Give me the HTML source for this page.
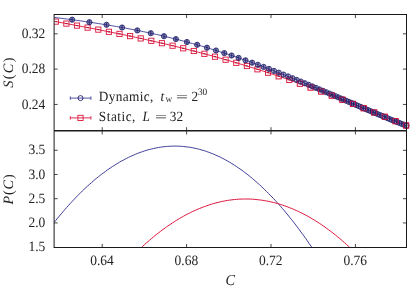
<!DOCTYPE html>
<html><head><meta charset="utf-8"><style>
html,body{margin:0;padding:0;background:#fff;}
body{width:415px;height:291px;position:relative;overflow:hidden;font-family:"Liberation Serif",serif;color:#222;}
#t{position:absolute;left:0;top:0;width:415px;height:291px;will-change:transform;text-rendering:geometricPrecision;}
</style></head><body>
<svg width="415" height="291" viewBox="0 0 415 291" style="position:absolute;left:0;top:0">
<defs><clipPath id="c1"><rect x="54.1" y="14.5" width="356.4" height="116.3"/></clipPath><clipPath id="c2"><rect x="54.1" y="130.8" width="352.4" height="116.7"/></clipPath></defs>
<g clip-path="url(#c1)">
<polyline fill="none" stroke="#dc143c" stroke-width="0.9" points="55.8,21.6 66.4,23.6 77.0,25.6 87.6,27.6 98.3,29.6 108.9,31.8 119.5,33.9 130.1,36.1 140.7,38.4 151.3,40.8 161.9,43.2 172.6,45.7 183.2,48.3 193.8,51.0 204.4,53.8 215.0,56.7 225.6,59.7 236.3,62.8 246.9,66.0 257.5,69.3 268.1,72.7 278.7,76.3 289.3,79.9 299.9,83.7 310.6,87.6 321.2,91.5 331.8,95.6 342.4,99.7 353.0,103.9 363.6,108.2 374.2,112.5 384.9,116.8 395.5,121.1 406.1,125.5"/>
<rect x="53.2" y="19.0" width="5.2" height="5.2" fill="none" stroke="#dc143c" stroke-width="0.9"/>
<line x1="54.6" x2="57.0" y1="21.6" y2="21.6" stroke="#b01030" stroke-width="1"/>
<rect x="63.8" y="21.0" width="5.2" height="5.2" fill="none" stroke="#dc143c" stroke-width="0.9"/>
<line x1="65.2" x2="67.6" y1="23.6" y2="23.6" stroke="#b01030" stroke-width="1"/>
<rect x="74.4" y="23.0" width="5.2" height="5.2" fill="none" stroke="#dc143c" stroke-width="0.9"/>
<line x1="75.8" x2="78.2" y1="25.6" y2="25.6" stroke="#b01030" stroke-width="1"/>
<rect x="85.0" y="25.0" width="5.2" height="5.2" fill="none" stroke="#dc143c" stroke-width="0.9"/>
<line x1="86.4" x2="88.8" y1="27.6" y2="27.6" stroke="#b01030" stroke-width="1"/>
<rect x="95.7" y="27.0" width="5.2" height="5.2" fill="none" stroke="#dc143c" stroke-width="0.9"/>
<line x1="97.1" x2="99.5" y1="29.6" y2="29.6" stroke="#b01030" stroke-width="1"/>
<rect x="106.3" y="29.2" width="5.2" height="5.2" fill="none" stroke="#dc143c" stroke-width="0.9"/>
<line x1="107.7" x2="110.1" y1="31.8" y2="31.8" stroke="#b01030" stroke-width="1"/>
<rect x="116.9" y="31.3" width="5.2" height="5.2" fill="none" stroke="#dc143c" stroke-width="0.9"/>
<line x1="118.3" x2="120.7" y1="33.9" y2="33.9" stroke="#b01030" stroke-width="1"/>
<rect x="127.5" y="33.5" width="5.2" height="5.2" fill="none" stroke="#dc143c" stroke-width="0.9"/>
<line x1="128.9" x2="131.3" y1="36.1" y2="36.1" stroke="#b01030" stroke-width="1"/>
<rect x="138.1" y="35.8" width="5.2" height="5.2" fill="none" stroke="#dc143c" stroke-width="0.9"/>
<line x1="139.5" x2="141.9" y1="38.4" y2="38.4" stroke="#b01030" stroke-width="1"/>
<rect x="148.7" y="38.2" width="5.2" height="5.2" fill="none" stroke="#dc143c" stroke-width="0.9"/>
<line x1="150.1" x2="152.5" y1="40.8" y2="40.8" stroke="#b01030" stroke-width="1"/>
<rect x="159.3" y="40.6" width="5.2" height="5.2" fill="none" stroke="#dc143c" stroke-width="0.9"/>
<line x1="160.8" x2="163.1" y1="43.2" y2="43.2" stroke="#b01030" stroke-width="1"/>
<rect x="170.0" y="43.1" width="5.2" height="5.2" fill="none" stroke="#dc143c" stroke-width="0.9"/>
<line x1="171.4" x2="173.8" y1="45.7" y2="45.7" stroke="#b01030" stroke-width="1"/>
<rect x="180.6" y="45.7" width="5.2" height="5.2" fill="none" stroke="#dc143c" stroke-width="0.9"/>
<line x1="182.0" x2="184.4" y1="48.3" y2="48.3" stroke="#b01030" stroke-width="1"/>
<rect x="191.2" y="48.4" width="5.2" height="5.2" fill="none" stroke="#dc143c" stroke-width="0.9"/>
<line x1="192.6" x2="195.0" y1="51.0" y2="51.0" stroke="#b01030" stroke-width="1"/>
<rect x="201.8" y="51.2" width="5.2" height="5.2" fill="none" stroke="#dc143c" stroke-width="0.9"/>
<line x1="203.2" x2="205.6" y1="53.8" y2="53.8" stroke="#b01030" stroke-width="1"/>
<rect x="212.4" y="54.1" width="5.2" height="5.2" fill="none" stroke="#dc143c" stroke-width="0.9"/>
<line x1="213.8" x2="216.2" y1="56.7" y2="56.7" stroke="#b01030" stroke-width="1"/>
<rect x="223.0" y="57.1" width="5.2" height="5.2" fill="none" stroke="#dc143c" stroke-width="0.9"/>
<line x1="224.4" x2="226.8" y1="59.7" y2="59.7" stroke="#b01030" stroke-width="1"/>
<rect x="233.7" y="60.2" width="5.2" height="5.2" fill="none" stroke="#dc143c" stroke-width="0.9"/>
<line x1="235.1" x2="237.5" y1="62.8" y2="62.8" stroke="#b01030" stroke-width="1"/>
<rect x="244.3" y="63.4" width="5.2" height="5.2" fill="none" stroke="#dc143c" stroke-width="0.9"/>
<line x1="245.7" x2="248.1" y1="66.0" y2="66.0" stroke="#b01030" stroke-width="1"/>
<rect x="254.9" y="66.7" width="5.2" height="5.2" fill="none" stroke="#dc143c" stroke-width="0.9"/>
<line x1="256.3" x2="258.7" y1="69.3" y2="69.3" stroke="#b01030" stroke-width="1"/>
<rect x="265.5" y="70.1" width="5.2" height="5.2" fill="none" stroke="#dc143c" stroke-width="0.9"/>
<line x1="266.9" x2="269.3" y1="72.7" y2="72.7" stroke="#b01030" stroke-width="1"/>
<rect x="276.1" y="73.7" width="5.2" height="5.2" fill="none" stroke="#dc143c" stroke-width="0.9"/>
<line x1="277.5" x2="279.9" y1="76.3" y2="76.3" stroke="#b01030" stroke-width="1"/>
<rect x="286.7" y="77.3" width="5.2" height="5.2" fill="none" stroke="#dc143c" stroke-width="0.9"/>
<line x1="288.1" x2="290.5" y1="79.9" y2="79.9" stroke="#b01030" stroke-width="1"/>
<rect x="297.3" y="81.1" width="5.2" height="5.2" fill="none" stroke="#dc143c" stroke-width="0.9"/>
<line x1="298.7" x2="301.1" y1="83.7" y2="83.7" stroke="#b01030" stroke-width="1"/>
<rect x="308.0" y="85.0" width="5.2" height="5.2" fill="none" stroke="#dc143c" stroke-width="0.9"/>
<line x1="309.4" x2="311.8" y1="87.6" y2="87.6" stroke="#b01030" stroke-width="1"/>
<rect x="318.6" y="88.9" width="5.2" height="5.2" fill="none" stroke="#dc143c" stroke-width="0.9"/>
<line x1="320.0" x2="322.4" y1="91.5" y2="91.5" stroke="#b01030" stroke-width="1"/>
<rect x="329.2" y="93.0" width="5.2" height="5.2" fill="none" stroke="#dc143c" stroke-width="0.9"/>
<line x1="330.6" x2="333.0" y1="95.6" y2="95.6" stroke="#b01030" stroke-width="1"/>
<rect x="339.8" y="97.1" width="5.2" height="5.2" fill="none" stroke="#dc143c" stroke-width="0.9"/>
<line x1="341.2" x2="343.6" y1="99.7" y2="99.7" stroke="#b01030" stroke-width="1"/>
<rect x="350.4" y="101.3" width="5.2" height="5.2" fill="none" stroke="#dc143c" stroke-width="0.9"/>
<line x1="351.8" x2="354.2" y1="103.9" y2="103.9" stroke="#b01030" stroke-width="1"/>
<rect x="361.0" y="105.6" width="5.2" height="5.2" fill="none" stroke="#dc143c" stroke-width="0.9"/>
<line x1="362.4" x2="364.8" y1="108.2" y2="108.2" stroke="#b01030" stroke-width="1"/>
<rect x="371.6" y="109.9" width="5.2" height="5.2" fill="none" stroke="#dc143c" stroke-width="0.9"/>
<line x1="373.1" x2="375.4" y1="112.5" y2="112.5" stroke="#b01030" stroke-width="1"/>
<rect x="382.3" y="114.2" width="5.2" height="5.2" fill="none" stroke="#dc143c" stroke-width="0.9"/>
<line x1="383.7" x2="386.1" y1="116.8" y2="116.8" stroke="#b01030" stroke-width="1"/>
<rect x="392.9" y="118.5" width="5.2" height="5.2" fill="none" stroke="#dc143c" stroke-width="0.9"/>
<line x1="394.3" x2="396.7" y1="121.1" y2="121.1" stroke="#b01030" stroke-width="1"/>
<rect x="403.5" y="122.9" width="5.2" height="5.2" fill="none" stroke="#dc143c" stroke-width="0.9"/>
<line x1="404.9" x2="407.3" y1="125.5" y2="125.5" stroke="#b01030" stroke-width="1"/>
<polyline fill="none" stroke="#3d3d99" stroke-width="0.9" points="54.1,17.4 58.6,18.0 63.0,18.5 67.5,19.1 71.9,19.7 76.4,20.3 80.9,20.9 85.3,21.6 89.8,22.2 94.2,22.9 98.7,23.6 103.2,24.3 107.6,25.0 112.1,25.8 116.6,26.5 121.0,27.3 125.5,28.1 129.9,29.0 134.4,29.8 138.9,30.7 143.3,31.6 147.8,32.6 152.2,33.5 156.7,34.5 161.2,35.5 165.6,36.6 170.1,37.7 174.5,38.8 179.0,39.9 183.5,41.1 187.9,42.3 192.4,43.5 196.8,44.7 201.3,46.0 205.8,47.3 210.2,48.7 214.7,50.1 219.1,51.5 223.6,52.9 228.1,54.3 232.5,55.8 237.0,57.3 241.5,58.9 245.9,60.4 250.4,62.0 254.8,63.6 259.3,65.3 263.8,67.0 268.2,68.6 272.7,70.3 277.1,72.1 281.6,73.8 286.1,75.6 290.5,77.4 295.0,79.2 299.4,81.0 303.9,82.9 308.4,84.7 312.8,86.6 317.3,88.4 321.7,90.3 326.2,92.2 330.7,94.1 335.1,96.0 339.6,97.9 344.0,99.8 348.5,101.7 353.0,103.7 357.4,105.6 361.9,107.5 366.4,109.4 370.8,111.2 375.3,113.1 379.7,115.0 384.2,116.8 388.7,118.7 393.1,120.5 397.6,122.3 402.0,124.0 406.5,125.8"/>
<circle cx="72.1" cy="19.7" r="2.6" fill="#23236e" fill-opacity="0.50" stroke="#23236e" stroke-width="0.85"/>
<path d="M71.3 19.7h1.6m-.8 0v-1.8m0 1.8v1.8m-.8 0h1.6m-1.6-3.6h1.6" stroke="#23236e" stroke-width="0.7" fill="none"/>
<circle cx="89.4" cy="22.2" r="2.6" fill="#23236e" fill-opacity="0.50" stroke="#23236e" stroke-width="0.85"/>
<path d="M88.6 22.2h1.6m-.8 0v-1.8m0 1.8v1.8m-.8 0h1.6m-1.6-3.6h1.6" stroke="#23236e" stroke-width="0.7" fill="none"/>
<circle cx="106.5" cy="24.8" r="2.6" fill="#23236e" fill-opacity="0.50" stroke="#23236e" stroke-width="0.85"/>
<path d="M105.7 24.8h1.6m-.8 0v-1.8m0 1.8v1.8m-.8 0h1.6m-1.6-3.6h1.6" stroke="#23236e" stroke-width="0.7" fill="none"/>
<circle cx="122.1" cy="27.5" r="2.6" fill="#23236e" fill-opacity="0.50" stroke="#23236e" stroke-width="0.85"/>
<path d="M121.3 27.5h1.6m-.8 0v-1.8m0 1.8v1.8m-.8 0h1.6m-1.6-3.6h1.6" stroke="#23236e" stroke-width="0.7" fill="none"/>
<circle cx="137.3" cy="30.4" r="2.6" fill="#23236e" fill-opacity="0.50" stroke="#23236e" stroke-width="0.85"/>
<path d="M136.5 30.4h1.6m-.8 0v-1.8m0 1.8v1.8m-.8 0h1.6m-1.6-3.6h1.6" stroke="#23236e" stroke-width="0.7" fill="none"/>
<circle cx="150.8" cy="33.2" r="2.6" fill="#23236e" fill-opacity="0.50" stroke="#23236e" stroke-width="0.85"/>
<path d="M150.0 33.2h1.6m-.8 0v-1.8m0 1.8v1.8m-.8 0h1.6m-1.6-3.6h1.6" stroke="#23236e" stroke-width="0.7" fill="none"/>
<circle cx="164.0" cy="36.2" r="2.6" fill="#23236e" fill-opacity="0.50" stroke="#23236e" stroke-width="0.85"/>
<path d="M163.2 36.2h1.6m-.8 0v-1.8m0 1.8v1.8m-.8 0h1.6m-1.6-3.6h1.6" stroke="#23236e" stroke-width="0.7" fill="none"/>
<circle cx="175.9" cy="39.1" r="2.6" fill="#23236e" fill-opacity="0.50" stroke="#23236e" stroke-width="0.85"/>
<path d="M175.1 39.1h1.6m-.8 0v-1.8m0 1.8v1.8m-.8 0h1.6m-1.6-3.6h1.6" stroke="#23236e" stroke-width="0.7" fill="none"/>
<circle cx="186.9" cy="42.0" r="2.6" fill="#23236e" fill-opacity="0.50" stroke="#23236e" stroke-width="0.85"/>
<path d="M186.1 42.0h1.6m-.8 0v-1.8m0 1.8v1.8m-.8 0h1.6m-1.6-3.6h1.6" stroke="#23236e" stroke-width="0.7" fill="none"/>
<circle cx="197.2" cy="44.8" r="2.6" fill="#23236e" fill-opacity="0.50" stroke="#23236e" stroke-width="0.85"/>
<path d="M196.4 44.8h1.6m-.8 0v-1.8m0 1.8v1.8m-.8 0h1.6m-1.6-3.6h1.6" stroke="#23236e" stroke-width="0.7" fill="none"/>
<circle cx="207.0" cy="47.7" r="2.6" fill="#23236e" fill-opacity="0.50" stroke="#23236e" stroke-width="0.85"/>
<path d="M206.2 47.7h1.6m-.8 0v-1.8m0 1.8v1.8m-.8 0h1.6m-1.6-3.6h1.6" stroke="#23236e" stroke-width="0.7" fill="none"/>
<circle cx="216.0" cy="50.5" r="2.6" fill="#23236e" fill-opacity="0.50" stroke="#23236e" stroke-width="0.85"/>
<path d="M215.2 50.5h1.6m-.8 0v-1.8m0 1.8v1.8m-.8 0h1.6m-1.6-3.6h1.6" stroke="#23236e" stroke-width="0.7" fill="none"/>
<circle cx="224.3" cy="53.1" r="2.6" fill="#23236e" fill-opacity="0.50" stroke="#23236e" stroke-width="0.85"/>
<path d="M223.5 53.1h1.6m-.8 0v-1.8m0 1.8v1.8m-.8 0h1.6m-1.6-3.6h1.6" stroke="#23236e" stroke-width="0.7" fill="none"/>
<circle cx="231.6" cy="55.5" r="2.6" fill="#23236e" fill-opacity="0.50" stroke="#23236e" stroke-width="0.85"/>
<path d="M230.8 55.5h1.6m-.8 0v-1.8m0 1.8v1.8m-.8 0h1.6m-1.6-3.6h1.6" stroke="#23236e" stroke-width="0.7" fill="none"/>
<circle cx="238.6" cy="57.9" r="2.6" fill="#23236e" fill-opacity="0.50" stroke="#23236e" stroke-width="0.85"/>
<path d="M237.8 57.9h1.6m-.8 0v-1.8m0 1.8v1.8m-.8 0h1.6m-1.6-3.6h1.6" stroke="#23236e" stroke-width="0.7" fill="none"/>
<circle cx="245.5" cy="60.3" r="2.6" fill="#23236e" fill-opacity="0.49" stroke="#23236e" stroke-width="0.85"/>
<path d="M244.7 60.3h1.6m-.8 0v-1.8m0 1.8v1.8m-.8 0h1.6m-1.6-3.6h1.6" stroke="#23236e" stroke-width="0.7" fill="none"/>
<circle cx="252.1" cy="62.7" r="2.6" fill="#23236e" fill-opacity="0.47" stroke="#23236e" stroke-width="0.85"/>
<path d="M251.3 62.7h1.6m-.8 0v-1.8m0 1.8v1.8m-.8 0h1.6m-1.6-3.6h1.6" stroke="#23236e" stroke-width="0.7" fill="none"/>
<circle cx="257.9" cy="64.8" r="2.6" fill="#23236e" fill-opacity="0.41" stroke="#23236e" stroke-width="0.85"/>
<path d="M257.1 64.8h1.6m-.8 0v-1.8m0 1.8v1.8m-.8 0h1.6m-1.6-3.6h1.6" stroke="#23236e" stroke-width="0.7" fill="none"/>
<circle cx="263.6" cy="66.9" r="2.6" fill="#23236e" fill-opacity="0.41" stroke="#23236e" stroke-width="0.85"/>
<path d="M262.8 66.9h1.6m-.8 0v-1.8m0 1.8v1.8m-.8 0h1.6m-1.6-3.6h1.6" stroke="#23236e" stroke-width="0.7" fill="none"/>
<circle cx="269.0" cy="68.9" r="2.6" fill="#23236e" fill-opacity="0.39" stroke="#23236e" stroke-width="0.85"/>
<path d="M268.2 68.9h1.6m-.8 0v-1.8m0 1.8v1.8m-.8 0h1.6m-1.6-3.6h1.6" stroke="#23236e" stroke-width="0.7" fill="none"/>
<circle cx="274.0" cy="70.9" r="2.6" fill="#23236e" fill-opacity="0.36" stroke="#23236e" stroke-width="0.85"/>
<path d="M273.2 70.9h1.6m-.8 0v-1.8m0 1.8v1.8m-.8 0h1.6m-1.6-3.6h1.6" stroke="#23236e" stroke-width="0.7" fill="none"/>
<circle cx="278.8" cy="72.7" r="2.6" fill="#23236e" fill-opacity="0.35" stroke="#23236e" stroke-width="0.85"/>
<path d="M278.0 72.7h1.6m-.8 0v-1.8m0 1.8v1.8m-.8 0h1.6m-1.6-3.6h1.6" stroke="#23236e" stroke-width="0.7" fill="none"/>
<circle cx="283.5" cy="74.6" r="2.6" fill="#23236e" fill-opacity="0.33" stroke="#23236e" stroke-width="0.85"/>
<path d="M282.7 74.6h1.6m-.8 0v-1.8m0 1.8v1.8m-.8 0h1.6m-1.6-3.6h1.6" stroke="#23236e" stroke-width="0.7" fill="none"/>
<circle cx="288.1" cy="76.4" r="2.6" fill="#23236e" fill-opacity="0.32" stroke="#23236e" stroke-width="0.85"/>
<path d="M287.3 76.4h1.6m-.8 0v-1.8m0 1.8v1.8m-.8 0h1.6m-1.6-3.6h1.6" stroke="#23236e" stroke-width="0.7" fill="none"/>
<circle cx="292.5" cy="78.2" r="2.6" fill="#23236e" fill-opacity="0.31" stroke="#23236e" stroke-width="0.85"/>
<path d="M291.7 78.2h1.6m-.8 0v-1.8m0 1.8v1.8m-.8 0h1.6m-1.6-3.6h1.6" stroke="#23236e" stroke-width="0.7" fill="none"/>
<circle cx="296.7" cy="79.9" r="2.6" fill="#23236e" fill-opacity="0.30" stroke="#23236e" stroke-width="0.85"/>
<path d="M295.9 79.9h1.6m-.8 0v-1.8m0 1.8v1.8m-.8 0h1.6m-1.6-3.6h1.6" stroke="#23236e" stroke-width="0.7" fill="none"/>
<circle cx="300.8" cy="81.6" r="2.6" fill="#23236e" fill-opacity="0.29" stroke="#23236e" stroke-width="0.85"/>
<path d="M300.0 81.6h1.6m-.8 0v-1.8m0 1.8v1.8m-.8 0h1.6m-1.6-3.6h1.6" stroke="#23236e" stroke-width="0.7" fill="none"/>
<circle cx="304.8" cy="83.2" r="2.6" fill="#23236e" fill-opacity="0.28" stroke="#23236e" stroke-width="0.85"/>
<path d="M304.0 83.2h1.6m-.8 0v-1.8m0 1.8v1.8m-.8 0h1.6m-1.6-3.6h1.6" stroke="#23236e" stroke-width="0.7" fill="none"/>
<circle cx="308.7" cy="84.8" r="2.6" fill="#23236e" fill-opacity="0.28" stroke="#23236e" stroke-width="0.85"/>
<path d="M307.9 84.8h1.6m-.8 0v-1.8m0 1.8v1.8m-.8 0h1.6m-1.6-3.6h1.6" stroke="#23236e" stroke-width="0.7" fill="none"/>
<circle cx="312.4" cy="86.4" r="2.6" fill="#23236e" fill-opacity="0.27" stroke="#23236e" stroke-width="0.85"/>
<path d="M311.6 86.4h1.6m-.8 0v-1.8m0 1.8v1.8m-.8 0h1.6m-1.6-3.6h1.6" stroke="#23236e" stroke-width="0.7" fill="none"/>
<circle cx="316.0" cy="87.9" r="2.6" fill="#23236e" fill-opacity="0.26" stroke="#23236e" stroke-width="0.85"/>
<path d="M315.2 87.9h1.6m-.8 0v-1.8m0 1.8v1.8m-.8 0h1.6m-1.6-3.6h1.6" stroke="#23236e" stroke-width="0.7" fill="none"/>
<circle cx="319.5" cy="89.4" r="2.6" fill="#23236e" fill-opacity="0.25" stroke="#23236e" stroke-width="0.85"/>
<path d="M318.7 89.4h1.6m-.8 0v-1.8m0 1.8v1.8m-.8 0h1.6m-1.6-3.6h1.6" stroke="#23236e" stroke-width="0.7" fill="none"/>
<circle cx="322.9" cy="90.8" r="2.6" fill="#23236e" fill-opacity="0.24" stroke="#23236e" stroke-width="0.85"/>
<path d="M322.1 90.8h1.6m-.8 0v-1.8m0 1.8v1.8m-.8 0h1.6m-1.6-3.6h1.6" stroke="#23236e" stroke-width="0.7" fill="none"/>
<circle cx="326.1" cy="92.2" r="2.6" fill="#23236e" fill-opacity="0.23" stroke="#23236e" stroke-width="0.85"/>
<path d="M325.3 92.2h1.6m-.8 0v-1.8m0 1.8v1.8m-.8 0h1.6m-1.6-3.6h1.6" stroke="#23236e" stroke-width="0.7" fill="none"/>
<circle cx="329.3" cy="93.5" r="2.6" fill="#23236e" fill-opacity="0.23" stroke="#23236e" stroke-width="0.85"/>
<path d="M328.5 93.5h1.6m-.8 0v-1.8m0 1.8v1.8m-.8 0h1.6m-1.6-3.6h1.6" stroke="#23236e" stroke-width="0.7" fill="none"/>
<circle cx="332.4" cy="94.8" r="2.6" fill="#23236e" fill-opacity="0.22" stroke="#23236e" stroke-width="0.85"/>
<path d="M331.6 94.8h1.6m-.8 0v-1.8m0 1.8v1.8m-.8 0h1.6m-1.6-3.6h1.6" stroke="#23236e" stroke-width="0.7" fill="none"/>
<circle cx="335.4" cy="96.1" r="2.6" fill="#23236e" fill-opacity="0.21" stroke="#23236e" stroke-width="0.85"/>
<path d="M334.6 96.1h1.6m-.8 0v-1.8m0 1.8v1.8m-.8 0h1.6m-1.6-3.6h1.6" stroke="#23236e" stroke-width="0.7" fill="none"/>
<circle cx="338.2" cy="97.3" r="2.6" fill="#23236e" fill-opacity="0.21" stroke="#23236e" stroke-width="0.85"/>
<path d="M337.4 97.3h1.6m-.8 0v-1.8m0 1.8v1.8m-.8 0h1.6m-1.6-3.6h1.6" stroke="#23236e" stroke-width="0.7" fill="none"/>
<circle cx="341.0" cy="98.5" r="2.6" fill="#23236e" fill-opacity="0.20" stroke="#23236e" stroke-width="0.85"/>
<path d="M340.2 98.5h1.6m-.8 0v-1.8m0 1.8v1.8m-.8 0h1.6m-1.6-3.6h1.6" stroke="#23236e" stroke-width="0.7" fill="none"/>
<circle cx="343.7" cy="99.7" r="2.6" fill="#23236e" fill-opacity="0.19" stroke="#23236e" stroke-width="0.85"/>
<path d="M342.9 99.7h1.6m-.8 0v-1.8m0 1.8v1.8m-.8 0h1.6m-1.6-3.6h1.6" stroke="#23236e" stroke-width="0.7" fill="none"/>
<circle cx="346.3" cy="100.8" r="2.6" fill="#23236e" fill-opacity="0.19" stroke="#23236e" stroke-width="0.85"/>
<path d="M345.5 100.8h1.6m-.8 0v-1.8m0 1.8v1.8m-.8 0h1.6m-1.6-3.6h1.6" stroke="#23236e" stroke-width="0.7" fill="none"/>
<circle cx="348.9" cy="101.9" r="2.6" fill="#23236e" fill-opacity="0.18" stroke="#23236e" stroke-width="0.85"/>
<path d="M348.1 101.9h1.6m-.8 0v-1.8m0 1.8v1.8m-.8 0h1.6m-1.6-3.6h1.6" stroke="#23236e" stroke-width="0.7" fill="none"/>
<circle cx="351.3" cy="102.9" r="2.6" fill="#23236e" fill-opacity="0.17" stroke="#23236e" stroke-width="0.85"/>
<path d="M350.5 102.9h1.6m-.8 0v-1.8m0 1.8v1.8m-.8 0h1.6m-1.6-3.6h1.6" stroke="#23236e" stroke-width="0.7" fill="none"/>
<circle cx="353.7" cy="104.0" r="2.6" fill="#23236e" fill-opacity="0.17" stroke="#23236e" stroke-width="0.85"/>
<path d="M352.9 104.0h1.6m-.8 0v-1.8m0 1.8v1.8m-.8 0h1.6m-1.6-3.6h1.6" stroke="#23236e" stroke-width="0.7" fill="none"/>
<circle cx="356.1" cy="105.0" r="2.6" fill="#23236e" fill-opacity="0.17" stroke="#23236e" stroke-width="0.85"/>
<path d="M355.3 105.0h1.6m-.8 0v-1.8m0 1.8v1.8m-.8 0h1.6m-1.6-3.6h1.6" stroke="#23236e" stroke-width="0.7" fill="none"/>
<circle cx="358.5" cy="106.0" r="2.6" fill="#23236e" fill-opacity="0.17" stroke="#23236e" stroke-width="0.85"/>
<path d="M357.7 106.0h1.6m-.8 0v-1.8m0 1.8v1.8m-.8 0h1.6m-1.6-3.6h1.6" stroke="#23236e" stroke-width="0.7" fill="none"/>
<circle cx="360.9" cy="107.0" r="2.6" fill="#23236e" fill-opacity="0.17" stroke="#23236e" stroke-width="0.85"/>
<path d="M360.1 107.0h1.6m-.8 0v-1.8m0 1.8v1.8m-.8 0h1.6m-1.6-3.6h1.6" stroke="#23236e" stroke-width="0.7" fill="none"/>
<circle cx="363.3" cy="108.1" r="2.6" fill="#23236e" fill-opacity="0.17" stroke="#23236e" stroke-width="0.85"/>
<path d="M362.5 108.1h1.6m-.8 0v-1.8m0 1.8v1.8m-.8 0h1.6m-1.6-3.6h1.6" stroke="#23236e" stroke-width="0.7" fill="none"/>
<circle cx="365.7" cy="109.1" r="2.6" fill="#23236e" fill-opacity="0.17" stroke="#23236e" stroke-width="0.85"/>
<path d="M364.9 109.1h1.6m-.8 0v-1.8m0 1.8v1.8m-.8 0h1.6m-1.6-3.6h1.6" stroke="#23236e" stroke-width="0.7" fill="none"/>
<circle cx="368.1" cy="110.1" r="2.6" fill="#23236e" fill-opacity="0.17" stroke="#23236e" stroke-width="0.85"/>
<path d="M367.3 110.1h1.6m-.8 0v-1.8m0 1.8v1.8m-.8 0h1.6m-1.6-3.6h1.6" stroke="#23236e" stroke-width="0.7" fill="none"/>
<circle cx="370.5" cy="111.1" r="2.6" fill="#23236e" fill-opacity="0.17" stroke="#23236e" stroke-width="0.85"/>
<path d="M369.7 111.1h1.6m-.8 0v-1.8m0 1.8v1.8m-.8 0h1.6m-1.6-3.6h1.6" stroke="#23236e" stroke-width="0.7" fill="none"/>
<circle cx="372.9" cy="112.1" r="2.6" fill="#23236e" fill-opacity="0.17" stroke="#23236e" stroke-width="0.85"/>
<path d="M372.1 112.1h1.6m-.8 0v-1.8m0 1.8v1.8m-.8 0h1.6m-1.6-3.6h1.6" stroke="#23236e" stroke-width="0.7" fill="none"/>
<circle cx="375.3" cy="113.1" r="2.6" fill="#23236e" fill-opacity="0.17" stroke="#23236e" stroke-width="0.85"/>
<path d="M374.5 113.1h1.6m-.8 0v-1.8m0 1.8v1.8m-.8 0h1.6m-1.6-3.6h1.6" stroke="#23236e" stroke-width="0.7" fill="none"/>
<circle cx="377.7" cy="114.1" r="2.6" fill="#23236e" fill-opacity="0.17" stroke="#23236e" stroke-width="0.85"/>
<path d="M376.9 114.1h1.6m-.8 0v-1.8m0 1.8v1.8m-.8 0h1.6m-1.6-3.6h1.6" stroke="#23236e" stroke-width="0.7" fill="none"/>
<circle cx="380.1" cy="115.1" r="2.6" fill="#23236e" fill-opacity="0.17" stroke="#23236e" stroke-width="0.85"/>
<path d="M379.3 115.1h1.6m-.8 0v-1.8m0 1.8v1.8m-.8 0h1.6m-1.6-3.6h1.6" stroke="#23236e" stroke-width="0.7" fill="none"/>
<circle cx="382.5" cy="116.1" r="2.6" fill="#23236e" fill-opacity="0.17" stroke="#23236e" stroke-width="0.85"/>
<path d="M381.7 116.1h1.6m-.8 0v-1.8m0 1.8v1.8m-.8 0h1.6m-1.6-3.6h1.6" stroke="#23236e" stroke-width="0.7" fill="none"/>
<circle cx="384.9" cy="117.1" r="2.6" fill="#23236e" fill-opacity="0.17" stroke="#23236e" stroke-width="0.85"/>
<path d="M384.1 117.1h1.6m-.8 0v-1.8m0 1.8v1.8m-.8 0h1.6m-1.6-3.6h1.6" stroke="#23236e" stroke-width="0.7" fill="none"/>
<circle cx="387.3" cy="118.1" r="2.6" fill="#23236e" fill-opacity="0.17" stroke="#23236e" stroke-width="0.85"/>
<path d="M386.5 118.1h1.6m-.8 0v-1.8m0 1.8v1.8m-.8 0h1.6m-1.6-3.6h1.6" stroke="#23236e" stroke-width="0.7" fill="none"/>
<circle cx="389.7" cy="119.1" r="2.6" fill="#23236e" fill-opacity="0.17" stroke="#23236e" stroke-width="0.85"/>
<path d="M388.9 119.1h1.6m-.8 0v-1.8m0 1.8v1.8m-.8 0h1.6m-1.6-3.6h1.6" stroke="#23236e" stroke-width="0.7" fill="none"/>
<circle cx="392.1" cy="120.1" r="2.6" fill="#23236e" fill-opacity="0.17" stroke="#23236e" stroke-width="0.85"/>
<path d="M391.3 120.1h1.6m-.8 0v-1.8m0 1.8v1.8m-.8 0h1.6m-1.6-3.6h1.6" stroke="#23236e" stroke-width="0.7" fill="none"/>
<circle cx="394.5" cy="121.0" r="2.6" fill="#23236e" fill-opacity="0.17" stroke="#23236e" stroke-width="0.85"/>
<path d="M393.7 121.0h1.6m-.8 0v-1.8m0 1.8v1.8m-.8 0h1.6m-1.6-3.6h1.6" stroke="#23236e" stroke-width="0.7" fill="none"/>
<circle cx="396.9" cy="122.0" r="2.6" fill="#23236e" fill-opacity="0.17" stroke="#23236e" stroke-width="0.85"/>
<path d="M396.1 122.0h1.6m-.8 0v-1.8m0 1.8v1.8m-.8 0h1.6m-1.6-3.6h1.6" stroke="#23236e" stroke-width="0.7" fill="none"/>
<circle cx="399.3" cy="122.9" r="2.6" fill="#23236e" fill-opacity="0.17" stroke="#23236e" stroke-width="0.85"/>
<path d="M398.5 122.9h1.6m-.8 0v-1.8m0 1.8v1.8m-.8 0h1.6m-1.6-3.6h1.6" stroke="#23236e" stroke-width="0.7" fill="none"/>
<circle cx="401.7" cy="123.9" r="2.6" fill="#23236e" fill-opacity="0.17" stroke="#23236e" stroke-width="0.85"/>
<path d="M400.9 123.9h1.6m-.8 0v-1.8m0 1.8v1.8m-.8 0h1.6m-1.6-3.6h1.6" stroke="#23236e" stroke-width="0.7" fill="none"/>
<circle cx="404.1" cy="124.8" r="2.6" fill="#23236e" fill-opacity="0.17" stroke="#23236e" stroke-width="0.85"/>
<path d="M403.3 124.8h1.6m-.8 0v-1.8m0 1.8v1.8m-.8 0h1.6m-1.6-3.6h1.6" stroke="#23236e" stroke-width="0.7" fill="none"/>
<circle cx="406.5" cy="125.8" r="2.6" fill="#23236e" fill-opacity="0.17" stroke="#23236e" stroke-width="0.85"/>
<path d="M405.7 125.8h1.6m-.8 0v-1.8m0 1.8v1.8m-.8 0h1.6m-1.6-3.6h1.6" stroke="#23236e" stroke-width="0.7" fill="none"/>
<rect x="254.9" y="66.7" width="5.2" height="5.2" fill="none" stroke="#dc143c" stroke-width="0.9" opacity="0.06"/>
<rect x="265.5" y="70.1" width="5.2" height="5.2" fill="none" stroke="#dc143c" stroke-width="0.9" opacity="0.14"/>
<rect x="276.1" y="73.7" width="5.2" height="5.2" fill="none" stroke="#dc143c" stroke-width="0.9" opacity="0.22"/>
<rect x="286.7" y="77.3" width="5.2" height="5.2" fill="none" stroke="#dc143c" stroke-width="0.9" opacity="0.29"/>
<rect x="297.3" y="81.1" width="5.2" height="5.2" fill="none" stroke="#dc143c" stroke-width="0.9" opacity="0.37"/>
<rect x="308.0" y="85.0" width="5.2" height="5.2" fill="none" stroke="#dc143c" stroke-width="0.9" opacity="0.45"/>
<rect x="318.6" y="88.9" width="5.2" height="5.2" fill="none" stroke="#dc143c" stroke-width="0.9" opacity="0.53"/>
<rect x="329.2" y="93.0" width="5.2" height="5.2" fill="none" stroke="#dc143c" stroke-width="0.9" opacity="0.61"/>
<rect x="339.8" y="97.1" width="5.2" height="5.2" fill="none" stroke="#dc143c" stroke-width="0.9" opacity="0.69"/>
<rect x="350.4" y="101.3" width="5.2" height="5.2" fill="none" stroke="#dc143c" stroke-width="0.9" opacity="0.75"/>
<rect x="361.0" y="105.6" width="5.2" height="5.2" fill="none" stroke="#dc143c" stroke-width="0.9" opacity="0.75"/>
<rect x="371.6" y="109.9" width="5.2" height="5.2" fill="none" stroke="#dc143c" stroke-width="0.9" opacity="0.75"/>
<rect x="382.3" y="114.2" width="5.2" height="5.2" fill="none" stroke="#dc143c" stroke-width="0.9" opacity="0.75"/>
<rect x="392.9" y="118.5" width="5.2" height="5.2" fill="none" stroke="#dc143c" stroke-width="0.9" opacity="0.75"/>
<rect x="403.5" y="122.9" width="5.2" height="5.2" fill="none" stroke="#dc143c" stroke-width="0.9" opacity="0.75"/>
</g>
<g clip-path="url(#c2)">
<polyline fill="none" stroke="#3d3d99" stroke-width="1" points="54.1,222.5 55.9,220.3 57.6,218.1 59.4,216.0 61.2,213.9 63.0,211.8 64.7,209.7 66.5,207.7 68.3,205.7 70.0,203.7 71.8,201.8 73.6,199.9 75.4,198.0 77.1,196.2 78.9,194.4 80.7,192.6 82.4,190.9 84.2,189.2 86.0,187.5 87.7,185.9 89.5,184.3 91.3,182.8 93.1,181.2 94.8,179.7 96.6,178.2 98.4,176.8 100.1,175.4 101.9,174.0 103.7,172.7 105.5,171.4 107.2,170.1 109.0,168.9 110.8,167.7 112.5,166.5 114.3,165.4 116.1,164.3 117.9,163.2 119.6,162.1 121.4,161.1 123.2,160.2 124.9,159.2 126.7,158.3 128.5,157.4 130.2,156.6 132.0,155.8 133.8,155.0 135.6,154.2 137.3,153.5 139.1,152.8 140.9,152.2 142.6,151.6 144.4,151.0 146.2,150.4 148.0,149.9 149.7,149.4 151.5,149.0 153.3,148.6 155.0,148.2 156.8,147.8 158.6,147.5 160.4,147.2 162.1,147.0 163.9,146.7 165.7,146.6 167.4,146.4 169.2,146.3 171.0,146.2 172.7,146.1 174.5,146.1 176.3,146.1 178.1,146.2 179.8,146.2 181.6,146.3 183.4,146.5 185.1,146.7 186.9,146.9 188.7,147.1 190.5,147.4 192.2,147.7 194.0,148.1 195.8,148.4 197.5,148.8 199.3,149.3 201.1,149.8 202.9,150.3 204.6,150.8 206.4,151.4 208.2,152.1 209.9,152.7 211.7,153.4 213.5,154.1 215.2,154.9 217.0,155.7 218.8,156.5 220.6,157.3 222.3,158.2 224.1,159.1 225.9,160.1 227.6,161.1 229.4,162.1 231.2,163.2 233.0,164.3 234.7,165.4 236.5,166.6 238.3,167.8 240.0,169.0 241.8,170.2 243.6,171.5 245.4,172.9 247.1,174.2 248.9,175.6 250.7,177.1 252.4,178.5 254.2,180.0 256.0,181.6 257.7,183.1 259.5,184.7 261.3,186.4 263.1,188.1 264.8,189.8 266.6,191.5 268.4,193.3 270.1,195.1 271.9,196.9 273.7,198.8 275.5,200.7 277.2,202.6 279.0,204.6 280.8,206.6 282.5,208.7 284.3,210.7 286.1,212.9 287.9,215.0 289.6,217.2 291.4,219.4 293.2,221.6 294.9,223.9 296.7,226.2 298.5,228.6 300.2,231.0 302.0,233.4 303.8,235.8 305.6,238.3 307.3,240.8 309.1,243.4 310.9,246.0 312.6,248.6 314.4,251.3 316.2,253.9 318.0,256.7 319.7,259.4 321.5,262.2 323.3,265.0 325.0,267.9 326.8,270.8 328.6,273.7 330.4,276.7 332.1,279.7 333.9,282.7 335.7,285.8 337.4,288.8 339.2,292.0 341.0,295.1 342.7,298.3 344.5,301.6 346.3,304.8 348.1,308.1 349.8,311.5 351.6,314.8 353.4,318.2 355.1,321.7 356.9,325.1 358.7,328.6 360.5,332.2 362.2,335.7 364.0,339.3 365.8,343.0 367.5,346.7 369.3,350.4 371.1,354.1 372.9,357.9 374.6,361.7 376.4,365.5 378.2,369.4 379.9,373.3 381.7,377.3 383.5,381.2 385.2,385.2 387.0,389.3 388.8,393.4 390.6,397.5 392.3,401.6 394.1,405.8 395.9,410.0 397.6,414.3 399.4,418.6 401.2,422.9 403.0,427.2 404.7,431.6 406.5,436.0"/>
<polyline fill="none" stroke="#dc143c" stroke-width="1" points="54.1,362.8 55.9,359.8 57.6,356.8 59.4,353.8 61.2,350.9 63.0,348.0 64.7,345.1 66.5,342.3 68.3,339.4 70.0,336.7 71.8,333.9 73.6,331.2 75.4,328.4 77.1,325.8 78.9,323.1 80.7,320.5 82.4,317.9 84.2,315.3 86.0,312.8 87.7,310.3 89.5,307.8 91.3,305.3 93.1,302.9 94.8,300.5 96.6,298.1 98.4,295.8 100.1,293.5 101.9,291.2 103.7,288.9 105.5,286.7 107.2,284.5 109.0,282.3 110.8,280.2 112.5,278.1 114.3,276.0 116.1,273.9 117.9,271.9 119.6,269.9 121.4,267.9 123.2,265.9 124.9,264.0 126.7,262.1 128.5,260.3 130.2,258.4 132.0,256.6 133.8,254.8 135.6,253.1 137.3,251.4 139.1,249.7 140.9,248.0 142.6,246.3 144.4,244.7 146.2,243.1 148.0,241.6 149.7,240.1 151.5,238.5 153.3,237.1 155.0,235.6 156.8,234.2 158.6,232.8 160.4,231.5 162.1,230.1 163.9,228.8 165.7,227.5 167.4,226.3 169.2,225.1 171.0,223.9 172.7,222.7 174.5,221.6 176.3,220.5 178.1,219.4 179.8,218.3 181.6,217.3 183.4,216.3 185.1,215.3 186.9,214.4 188.7,213.5 190.5,212.6 192.2,211.7 194.0,210.9 195.8,210.1 197.5,209.3 199.3,208.6 201.1,207.9 202.9,207.2 204.6,206.5 206.4,205.9 208.2,205.3 209.9,204.7 211.7,204.1 213.5,203.6 215.2,203.1 217.0,202.6 218.8,202.2 220.6,201.8 222.3,201.4 224.1,201.1 225.9,200.7 227.6,200.4 229.4,200.2 231.2,199.9 233.0,199.7 234.7,199.5 236.5,199.4 238.3,199.2 240.0,199.1 241.8,199.1 243.6,199.0 245.4,199.0 247.1,199.0 248.9,199.0 250.7,199.1 252.4,199.2 254.2,199.3 256.0,199.5 257.7,199.7 259.5,199.9 261.3,200.1 263.1,200.4 264.8,200.7 266.6,201.0 268.4,201.3 270.1,201.7 271.9,202.1 273.7,202.5 275.5,203.0 277.2,203.5 279.0,204.0 280.8,204.5 282.5,205.1 284.3,205.7 286.1,206.3 287.9,207.0 289.6,207.7 291.4,208.4 293.2,209.1 294.9,209.9 296.7,210.7 298.5,211.5 300.2,212.3 302.0,213.2 303.8,214.1 305.6,215.1 307.3,216.0 309.1,217.0 310.9,218.0 312.6,219.1 314.4,220.1 316.2,221.3 318.0,222.4 319.7,223.5 321.5,224.7 323.3,225.9 325.0,227.2 326.8,228.5 328.6,229.8 330.4,231.1 332.1,232.4 333.9,233.8 335.7,235.2 337.4,236.7 339.2,238.1 341.0,239.6 342.7,241.2 344.5,242.7 346.3,244.3 348.1,245.9 349.8,247.5 351.6,249.2 353.4,250.9 355.1,252.6 356.9,254.3 358.7,256.1 360.5,257.9 362.2,259.7 364.0,261.6 365.8,263.5 367.5,265.4 369.3,267.4 371.1,269.3 372.9,271.3 374.6,273.3 376.4,275.4 378.2,277.5 379.9,279.6 381.7,281.7 383.5,283.9 385.2,286.1 387.0,288.3 388.8,290.6 390.6,292.8 392.3,295.2 394.1,297.5 395.9,299.9 397.6,302.2 399.4,304.7 401.2,307.1 403.0,309.6 404.7,312.1 406.5,314.6"/>
</g>
<g stroke="#1a1a1a" stroke-width="1" fill="none">
<rect x="54.1" y="14.5" width="352.4" height="233"/>
<line x1="54.1" x2="406.5" y1="130.8" y2="130.8" stroke-width="1.5"/>
</g>
<g stroke="#1a1a1a" stroke-width="0.8" fill="none">
<line x1="102.2" x2="102.2" y1="14.5" y2="18.1"/>
<line x1="102.2" x2="102.2" y1="127.2" y2="134.4"/>
<line x1="102.2" x2="102.2" y1="243.9" y2="247.5"/>
<line x1="186.6" x2="186.6" y1="14.5" y2="18.1"/>
<line x1="186.6" x2="186.6" y1="127.2" y2="134.4"/>
<line x1="186.6" x2="186.6" y1="243.9" y2="247.5"/>
<line x1="271" x2="271" y1="14.5" y2="18.1"/>
<line x1="271" x2="271" y1="127.2" y2="134.4"/>
<line x1="271" x2="271" y1="243.9" y2="247.5"/>
<line x1="355.4" x2="355.4" y1="14.5" y2="18.1"/>
<line x1="355.4" x2="355.4" y1="127.2" y2="134.4"/>
<line x1="355.4" x2="355.4" y1="243.9" y2="247.5"/>
<line x1="54.1" x2="57.7" y1="33.8" y2="33.8"/>
<line x1="402.9" x2="406.5" y1="33.8" y2="33.8"/>
<line x1="54.1" x2="57.7" y1="69.1" y2="69.1"/>
<line x1="402.9" x2="406.5" y1="69.1" y2="69.1"/>
<line x1="54.1" x2="57.7" y1="104.45" y2="104.45"/>
<line x1="402.9" x2="406.5" y1="104.45" y2="104.45"/>
<line x1="54.1" x2="57.7" y1="150.3" y2="150.3"/>
<line x1="402.9" x2="406.5" y1="150.3" y2="150.3"/>
<line x1="54.1" x2="57.7" y1="174.5" y2="174.5"/>
<line x1="402.9" x2="406.5" y1="174.5" y2="174.5"/>
<line x1="54.1" x2="57.7" y1="198.7" y2="198.7"/>
<line x1="402.9" x2="406.5" y1="198.7" y2="198.7"/>
<line x1="54.1" x2="57.7" y1="222.95" y2="222.95"/>
<line x1="402.9" x2="406.5" y1="222.95" y2="222.95"/>
</g>
<g fill="none" stroke-width="0.9">
<path d="M70.3 98.1 H90.9 M70.3 96.4 V99.8 M90.9 96.4 V99.8" stroke="#3d3d99"/>
<path d="M70.3 117.9 H90.9 M70.3 116.2 V119.6 M90.9 116.2 V119.6" stroke="#dc143c"/>
<circle cx="80.5" cy="98.1" r="2.5" stroke="#23236e"/>
<rect x="77.9" y="115.3" width="5.2" height="5.2" stroke="#dc143c"/>
</g>
</svg>
<div id="t">
<div style="position:absolute;white-space:nowrap;line-height:1;font-size:13.5px;top:253.99px;left:102.00px;transform:translateX(-50%) scaleY(1.06);transform-origin:50% 83.75%;">0.64</div>
<div style="position:absolute;white-space:nowrap;line-height:1;font-size:13.5px;top:253.99px;left:186.40px;transform:translateX(-50%) scaleY(1.06);transform-origin:50% 83.75%;">0.68</div>
<div style="position:absolute;white-space:nowrap;line-height:1;font-size:13.5px;top:253.99px;left:270.80px;transform:translateX(-50%) scaleY(1.06);transform-origin:50% 83.75%;">0.72</div>
<div style="position:absolute;white-space:nowrap;line-height:1;font-size:13.5px;top:253.99px;left:355.20px;transform:translateX(-50%) scaleY(1.06);transform-origin:50% 83.75%;">0.76</div>
<div style="position:absolute;white-space:nowrap;line-height:1;font-size:13.5px;top:26.89px;transform:scaleY(1.06);transform-origin:50% 83.75%;right:369.70px;">0.32</div>
<div style="position:absolute;white-space:nowrap;line-height:1;font-size:13.5px;top:62.19px;transform:scaleY(1.06);transform-origin:50% 83.75%;right:369.70px;">0.28</div>
<div style="position:absolute;white-space:nowrap;line-height:1;font-size:13.5px;top:97.54px;transform:scaleY(1.06);transform-origin:50% 83.75%;right:369.70px;">0.24</div>
<div style="position:absolute;white-space:nowrap;line-height:1;font-size:13.5px;top:143.39px;transform:scaleY(1.06);transform-origin:50% 83.75%;right:369.70px;">3.5</div>
<div style="position:absolute;white-space:nowrap;line-height:1;font-size:13.5px;top:167.59px;transform:scaleY(1.06);transform-origin:50% 83.75%;right:369.70px;">3.0</div>
<div style="position:absolute;white-space:nowrap;line-height:1;font-size:13.5px;top:191.79px;transform:scaleY(1.06);transform-origin:50% 83.75%;right:369.70px;">2.5</div>
<div style="position:absolute;white-space:nowrap;line-height:1;font-size:13.5px;top:216.04px;transform:scaleY(1.06);transform-origin:50% 83.75%;right:369.70px;">2.0</div>
<div style="position:absolute;white-space:nowrap;line-height:1;font-size:13.5px;top:240.29px;transform:scaleY(1.06);transform-origin:50% 83.75%;right:369.70px;">1.5</div>
<div style="position:absolute;white-space:nowrap;line-height:1;font-size:14.3px;top:274.42px;left:230.30px;transform:translateX(-50%) scaleY(1.06);transform-origin:50% 83.75%;"><i>C</i></div>
<div style="position:absolute;white-space:nowrap;line-height:1;font-size:13.3px;top:90.46px;transform:scaleY(1.06);transform-origin:50% 83.75%;left:98.70px;letter-spacing:0.38px;">Dynamic,</div>
<div style="position:absolute;white-space:nowrap;line-height:1;font-size:13.3px;top:90.46px;transform:scaleY(1.06);transform-origin:50% 83.75%;left:160.60px;"><i>t</i></div>
<div style="position:absolute;white-space:nowrap;line-height:1;font-size:9.3px;top:95.81px;transform:scaleY(1.06);transform-origin:50% 83.75%;left:165.60px;">w</div>
<div style="position:absolute;white-space:nowrap;line-height:1;font-size:13.3px;top:90.46px;transform:scaleY(1.06);transform-origin:50% 83.75%;left:176.30px;transform:scale(1.6,1.0);transform-origin:0 83.75%;">=</div>
<div style="position:absolute;white-space:nowrap;line-height:1;font-size:13.3px;top:90.46px;transform:scaleY(1.06);transform-origin:50% 83.75%;left:191.50px;">2</div>
<div style="position:absolute;white-space:nowrap;line-height:1;font-size:9.3px;top:89.01px;transform:scaleY(1.06);transform-origin:50% 83.75%;left:197.90px;">30</div>
<div style="position:absolute;white-space:nowrap;line-height:1;font-size:13.3px;top:109.76px;transform:scaleY(1.06);transform-origin:50% 83.75%;left:98.80px;letter-spacing:0.5px;">Static,</div>
<div style="position:absolute;white-space:nowrap;line-height:1;font-size:13.3px;top:109.76px;transform:scaleY(1.06);transform-origin:50% 83.75%;left:142.60px;"><i>L</i></div>
<div style="position:absolute;white-space:nowrap;line-height:1;font-size:13.3px;top:109.76px;transform:scaleY(1.06);transform-origin:50% 83.75%;left:155.20px;transform:scale(1.6,1.0);transform-origin:0 83.75%;">=</div>
<div style="position:absolute;white-space:nowrap;line-height:1;font-size:13.3px;top:109.76px;transform:scaleY(1.06);transform-origin:50% 83.75%;left:169.80px;">32</div>
<div style="position:absolute;left:9.1px;top:71.9px;width:0;height:0;"><div style="position:absolute;white-space:nowrap;line-height:1;font-size:14.3px;letter-spacing:1.3px;transform:translate(-50%,-50%) rotate(-90deg);"><i>S</i>(<i>C</i>)</div></div>
<div style="position:absolute;left:9.1px;top:188.6px;width:0;height:0;"><div style="position:absolute;white-space:nowrap;line-height:1;font-size:14.3px;letter-spacing:0.8px;transform:translate(-50%,-50%) rotate(-90deg);"><i>P</i>(<i>C</i>)</div></div>
</div>
</body></html>
